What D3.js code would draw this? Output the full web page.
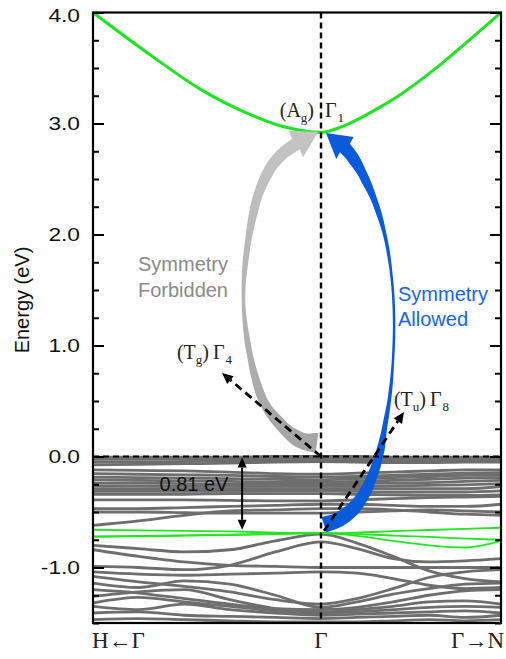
<!DOCTYPE html>
<html>
<head>
<meta charset="utf-8">
<script src="https://cdn.jsdelivr.net/npm/d3@7"></script>
<style>
  html, body { margin: 0; padding: 0; background: #fff; }
  svg { display: block; }
</style>
</head>
<body>
<svg id="chart" width="506" height="659"></svg>
<script>
// ---- band-structure data (energies in eV, k in reduced path units) ----
// k path: -1 = H, 0 = Gamma, +1 = N
const kPoints = [-1, -0.8, -0.6, -0.4, -0.2, 0, 0.2, 0.4, 0.6, 0.8, 1];

// conduction band (Gamma1, Ag)
const conductionK = [-1, -0.75, -0.53, -0.31, -0.18, -0.09, 0, 0.08, 0.17, 0.33, 0.44, 0.56, 0.67, 0.83, 1];
const conductionE = [4.0, 3.62, 3.31, 3.08, 2.98, 2.94, 2.92, 2.95, 3.01, 3.15, 3.26, 3.40, 3.54, 3.76, 4.0];

// valence bands drawn in grey
const grayBands = [
  [-0.005, -0.005, -0.005, -0.005, 0, 0, 0, -0.005, -0.005, -0.005, -0.005],
  [-0.025, -0.025, -0.022, -0.02, -0.018, -0.015, -0.018, -0.02, -0.022, -0.02, -0.02],
  [-0.05, -0.05, -0.045, -0.04, -0.035, -0.03, -0.035, -0.04, -0.04, -0.035, -0.035],
  [-0.075, -0.07, -0.065, -0.06, -0.05, -0.045, -0.05, -0.055, -0.055, -0.05, -0.05],
  [-0.12, -0.125, -0.13, -0.14, -0.155, -0.16, -0.15, -0.14, -0.13, -0.12, -0.12],
  [-0.155, -0.16, -0.165, -0.17, -0.18, -0.185, -0.18, -0.17, -0.16, -0.15, -0.145],
  [-0.185, -0.19, -0.195, -0.2, -0.205, -0.21, -0.2, -0.19, -0.18, -0.17, -0.17],
  [-0.21, -0.215, -0.22, -0.225, -0.23, -0.23, -0.225, -0.215, -0.205, -0.195, -0.19],
  [-0.24, -0.24, -0.245, -0.25, -0.25, -0.25, -0.245, -0.24, -0.235, -0.225, -0.215],
  [-0.265, -0.265, -0.27, -0.27, -0.27, -0.27, -0.27, -0.265, -0.26, -0.255, -0.245],
  [-0.29, -0.29, -0.29, -0.29, -0.29, -0.29, -0.29, -0.29, -0.29, -0.29, -0.27],
  [-0.315, -0.315, -0.315, -0.315, -0.31, -0.31, -0.315, -0.32, -0.32, -0.32, -0.31],
  [-0.34, -0.34, -0.34, -0.335, -0.335, -0.335, -0.34, -0.345, -0.35, -0.35, -0.345],
  [-0.39, -0.39, -0.39, -0.395, -0.4, -0.4, -0.39, -0.38, -0.37, -0.365, -0.36],
  [-0.47, -0.47, -0.46, -0.45, -0.44, -0.43, -0.43, -0.44, -0.45, -0.45, -0.43],
  [-0.62, -0.58, -0.53, -0.49, -0.48, -0.47, -0.47, -0.48, -0.50, -0.52, -0.53],
  [-0.50, -0.50, -0.505, -0.51, -0.51, -0.51, -0.50, -0.49, -0.48, -0.49, -0.50],
  [-0.80, -0.83, -0.86, -0.84, -0.76, -0.70, -0.78, -0.90, -1.03, -1.10, -1.13],
  [-0.84, -0.90, -0.95, -0.98, -0.99, -1.00, -1.00, -1.00, -1.00, -1.00, -1.00],
  [-0.99, -1.00, -1.02, -0.98, -0.86, -0.77, -0.83, -0.92, -0.95, -0.94, -0.92],
  [-1.04, -1.06, -1.07, -1.06, -1.05, -1.04, -1.05, -1.10, -1.16, -1.19, -1.18],
  [-1.08, -1.13, -1.17, -1.22, -1.29, -1.33, -1.28, -1.19, -1.09, -1.04, -1.02],
  [-1.14, -1.18, -1.12, -1.15, -1.25, -1.36, -1.31, -1.24, -1.19, -1.15, -1.14],
  [-1.20, -1.23, -1.28, -1.33, -1.37, -1.38, -1.36, -1.31, -1.25, -1.21, -1.20],
  [-1.26, -1.22, -1.20, -1.29, -1.37, -1.40, -1.38, -1.35, -1.31, -1.30, -1.33],
  [-1.32, -1.27, -1.31, -1.35, -1.39, -1.41, -1.40, -1.38, -1.36, -1.35, -1.36],
  [-1.35, -1.38, -1.33, -1.38, -1.41, -1.43, -1.42, -1.41, -1.40, -1.39, -1.41],
  [-1.41, -1.40, -1.43, -1.44, -1.45, -1.46, -1.45, -1.44, -1.43, -1.45, -1.43],
  [-1.47, -1.46, -1.47, -1.48, -1.49, -1.49, -1.49, -1.48, -1.47, -1.48, -1.47]
];

// valence bands drawn in green (Gamma8, Tu)
const greenBands = [
  [-0.66, -0.665, -0.67, -0.675, -0.685, -0.69, -0.685, -0.672, -0.662, -0.652, -0.642],
  [-0.72, -0.715, -0.71, -0.705, -0.697, -0.69, -0.70, -0.712, -0.725, -0.74, -0.75],
  [-0.725, -0.72, -0.713, -0.707, -0.698, -0.69, -0.715, -0.76, -0.80, -0.82, -0.76]
];

// axis ticks
const majorTicks = [-1, 0, 1, 2, 3, 4];
const majorLabels = ["-1.0", "0.0", "1.0", "2.0", "3.0", "4.0"];
const minorTicks = d3.range(-1.5, 4.001, 0.25);
const pathLabels = ["H\u2190\u0393", "\u0393", "\u0393\u2192N"];

// curved transition arrows: centre line in (k, E), ribbon width in px, arrow tip
const forbiddenCenter = [[-0.0175, 0.122], [-0.092, 0.149], [-0.175, 0.284], [-0.259, 0.527], [-0.316, 0.959],
  [-0.340, 1.41], [-0.325, 1.86], [-0.285, 2.293], [-0.232, 2.563], [-0.175, 2.716], [-0.110, 2.815]];
const forbiddenWidth = [20, 16, 12, 9, 6, 3.5, 6, 9, 11, 12, 13];
const forbiddenTip = [-0.013, 2.923];

const allowedCenter = [[0.0167, -0.615], [0.094, -0.572], [0.172, -0.482], [0.239, -0.338], [0.289, -0.158],
  [0.328, 0.041], [0.356, 0.284], [0.383, 0.554], [0.400, 0.869], [0.406, 1.23], [0.394, 1.59], [0.361, 1.95],
  [0.306, 2.266], [0.239, 2.518], [0.178, 2.689], [0.133, 2.779]];
const allowedWidth = [16, 15, 14, 12, 10, 8, 5, 3.5, 2.5, 2.5, 2.5, 3.5, 6, 9, 12, 13];
const allowedTip = [0.028, 2.914];

// ---- layout ----
const svg = d3.select("#chart");
const pLeft = 93, pRight = 501, pTop = 12.5, pBottom = 623;
const x = d3.scaleLinear().domain([-1, 0, 1]).range([pLeft, 321, pRight]);
const y = d3.scaleLinear().domain([-1.5, 4]).range([pBottom, pTop]);

const sans = "Arial, 'Liberation Sans', Helvetica, sans-serif";
const serif = "'Times New Roman', 'Liberation Serif', Times, serif";

const defs = svg.append("defs");
defs.append("clipPath").attr("id", "plotClip")
  .append("rect").attr("x", pLeft).attr("y", pTop).attr("width", pRight - pLeft).attr("height", pBottom - pTop);
const grad = defs.append("linearGradient").attr("id", "greyFade")
  .attr("x1", 0).attr("y1", 0).attr("x2", 0).attr("y2", 1);
grad.append("stop").attr("offset", "0%").attr("stop-color", "#c4c4c4");
grad.append("stop").attr("offset", "100%").attr("stop-color", "#a4a4a4");

const plot = svg.append("g").attr("clip-path", "url(#plotClip)");

const bandLine = d3.line()
  .x((d, i) => x(kPoints[i]))
  .y(d => y(d))
  .curve(d3.curveMonotoneX);

plot.append("g").selectAll("path").data(grayBands).join("path")
  .attr("d", bandLine)
  .attr("fill", "none").attr("stroke", "#6e6e6e").attr("stroke-width", 2.8);

plot.append("g").selectAll("path").data(greenBands).join("path")
  .attr("d", bandLine)
  .attr("fill", "none").attr("stroke", "#22e622").attr("stroke-width", 1.8);

plot.append("path")
  .attr("d", d3.line().x((d, i) => x(conductionK[i])).y(d => y(d)).curve(d3.curveMonotoneX)(conductionE))
  .attr("fill", "none").attr("stroke", "#1ee61e").attr("stroke-width", 3);

// ---- curved arrows: smooth centre line, tapered ribbon, triangular head ----
function catmull(p0, p1, p2, p3, t) {
  const t2 = t * t, t3 = t2 * t;
  return [0, 1].map(j => 0.5 * ((2 * p1[j]) + (-p0[j] + p2[j]) * t +
    (2 * p0[j] - 5 * p1[j] + 4 * p2[j] - p3[j]) * t2 + (-p0[j] + 3 * p1[j] - 3 * p2[j] + p3[j]) * t3));
}
function ribbon(center, widths, tip, headHalf) {
  const P = center.map(d => [x(d[0]), y(d[1])]);
  const n = P.length, S = [];
  for (let i = 0; i < n - 1; i++) {
    const p0 = P[Math.max(i - 1, 0)], p1 = P[i], p2 = P[i + 1], p3 = P[Math.min(i + 2, n - 1)];
    for (let s = 0; s < 14; s++) {
      const t = s / 14, st = t * t * (3 - 2 * t);
      S.push({ p: catmull(p0, p1, p2, p3, t), w: widths[i] + (widths[i + 1] - widths[i]) * st });
    }
  }
  S.push({ p: P[n - 1], w: widths[n - 1] });
  const A = [], B = [];
  S.forEach((s, j) => {
    const a = S[Math.max(j - 1, 0)].p, b = S[Math.min(j + 1, S.length - 1)].p;
    const dx = b[0] - a[0], dy = b[1] - a[1], len = Math.hypot(dx, dy) || 1;
    const nx = -dy / len, ny = dx / len;
    A.push([s.p[0] + nx * s.w / 2, s.p[1] + ny * s.w / 2]);
    B.push([s.p[0] - nx * s.w / 2, s.p[1] - ny * s.w / 2]);
  });
  const base = P[n - 1], T = [x(tip[0]), y(tip[1])];
  const dx = T[0] - base[0], dy = T[1] - base[1], len = Math.hypot(dx, dy);
  const hx = -dy / len, hy = dx / len;
  const headPts = [[base[0] + hx * headHalf, base[1] + hy * headHalf], T, [base[0] - hx * headHalf, base[1] - hy * headHalf]];
  const pts = A.concat(headPts, B.reverse());
  return "M" + pts.map(p => p[0].toFixed(2) + "," + p[1].toFixed(2)).join("L") + "Z";
}

svg.append("path").attr("d", ribbon(forbiddenCenter, forbiddenWidth, forbiddenTip, 15)).attr("fill", "url(#greyFade)");
svg.append("path").attr("d", ribbon(allowedCenter, allowedWidth, allowedTip, 14)).attr("fill", "#0a5adc");

// ---- reference lines ----
svg.append("line")
  .attr("x1", pLeft).attr("x2", pRight).attr("y1", y(0)).attr("y2", y(0))
  .attr("stroke", "#000").attr("stroke-width", 2).attr("stroke-dasharray", "6,4");
svg.append("line")
  .attr("x1", x(0)).attr("x2", x(0)).attr("y1", pTop).attr("y2", pBottom)
  .attr("stroke", "#000").attr("stroke-width", 2.4).attr("stroke-dasharray", "6,4");

// ---- dashed pointer arrows and the gap arrow ----
function head(g, tip, from, len, wid) {
  const dx = tip[0] - from[0], dy = tip[1] - from[1];
  const L = Math.hypot(dx, dy), ux = dx / L, uy = dy / L;
  const bx = tip[0] - ux * len, by = tip[1] - uy * len;
  g.append("path")
    .attr("d", `M${tip[0]},${tip[1]}L${bx - uy * wid / 2},${by + ux * wid / 2}L${bx + uy * wid / 2},${by - ux * wid / 2}Z`)
    .attr("fill", "#000");
  return [bx, by];
}
function pointer(fromK, fromE, toK, toE) {
  const a = [x(fromK), y(fromE)], b = [x(toK), y(toE)];
  const g = svg.append("g");
  const base = head(g, b, a, 11, 10);
  g.insert("line", "path")
    .attr("x1", a[0]).attr("y1", a[1]).attr("x2", base[0]).attr("y2", base[1])
    .attr("stroke", "#000").attr("stroke-width", 2.8).attr("stroke-dasharray", "8,5");
}
pointer(0, 0, -0.434, 0.752);
pointer(0.017, -0.67, 0.461, 0.401);

{
  const g = svg.append("g");
  const kx = x(-0.346);
  const t = [kx, y(-0.01)], b = [kx, y(-0.66)];
  const b1 = head(g, t, b, 10, 9);
  const b2 = head(g, b, t, 10, 9);
  g.insert("line", "path").attr("x1", kx).attr("x2", kx).attr("y1", b1[1]).attr("y2", b2[1])
    .attr("stroke", "#000").attr("stroke-width", 2);
  svg.append("text").attr("x", 194).attr("y", y(-0.315)).attr("text-anchor", "middle")
    .attr("font-family", sans).attr("font-size", 20).attr("fill", "#111").text("0.81 eV");
}

// ---- axes ----
function ticks(axisGen, xPos, vals, size) {
  svg.append("g").attr("transform", `translate(${xPos},0)`)
    .call(axisGen(y).tickValues(vals).tickSize(size).tickFormat(""))
    .call(g => g.select(".domain").remove())
    .selectAll("line").attr("stroke", "#000").attr("stroke-width", 2);
}
ticks(d3.axisLeft, pLeft, minorTicks, -6);
ticks(d3.axisLeft, pLeft, majorTicks, -11);
ticks(d3.axisRight, pRight, minorTicks, -6);
ticks(d3.axisRight, pRight, majorTicks, -11);

svg.append("g").selectAll("text").data(majorTicks).join("text")
  .attr("transform", d => `translate(80,${y(d) + (d === 4 ? 3 : 0)}) scale(1.3,1)`)
  .attr("text-anchor", "end").attr("dy", "0.36em")
  .attr("font-family", sans).attr("font-size", 17.5).attr("fill", "#111")
  .text((d, i) => majorLabels[i]);

svg.append("rect")
  .attr("x", pLeft).attr("y", pTop).attr("width", pRight - pLeft).attr("height", pBottom - pTop)
  .attr("fill", "none").attr("stroke", "#000").attr("stroke-width", 2.2);

svg.append("text")
  .attr("transform", "translate(29,300) rotate(-90)")
  .attr("text-anchor", "middle")
  .attr("font-family", sans).attr("font-size", 20).attr("fill", "#111")
  .text("Energy (eV)");

const pathPos = [[pLeft - 1, "start"], [321, "middle"], [pRight + 3, "end"]];
svg.append("g").selectAll("text").data(pathLabels).join("text")
  .attr("x", (d, i) => pathPos[i][0]).attr("y", 648)
  .attr("text-anchor", (d, i) => pathPos[i][1])
  .attr("font-family", serif).attr("font-size", 23).attr("fill", "#222")
  .text(d => d);

// ---- symmetry labels ----
function irrepLabel(xEnd, xGamma, energy, letter, sub1, sub2) {
  const py = y(energy);
  const a = svg.append("text").attr("x", xEnd).attr("y", py).attr("text-anchor", "end")
    .attr("font-family", serif).attr("font-size", 20).attr("fill", "#222");
  a.append("tspan").text("(" + letter);
  a.append("tspan").attr("font-size", 13).attr("dy", 5).text(sub1);
  a.append("tspan").attr("dy", -5).text(")");
  const b = svg.append("text").attr("x", xGamma).attr("y", py)
    .attr("font-family", serif).attr("font-size", 20).attr("fill", "#222");
  b.append("tspan").text("\u0393");
  b.append("tspan").attr("font-size", 13).attr("dy", 5).attr("dx", 1).text(sub2);
}
irrepLabel(314, 325, 3.06, "A", "g", "1");
irrepLabel(209, 213, 0.878, "T", "g", "4");
irrepLabel(426, 430, 0.455, "T", "u", "8");

svg.append("g").selectAll("text").data(["Symmetry", "Forbidden"]).join("text")
  .attr("x", 228).attr("y", (d, i) => 271 + i * 26).attr("text-anchor", "end")
  .attr("font-family", sans).attr("font-size", 20).attr("fill", "#8a8a8a").text(d => d);
svg.append("g").selectAll("text").data(["Symmetry", "Allowed"]).join("text")
  .attr("x", 398).attr("y", (d, i) => 301 + i * 25).attr("text-anchor", "start")
  .attr("font-family", sans).attr("font-size", 20).attr("fill", "#1565f0").text(d => d);
</script>
</body>
</html>
